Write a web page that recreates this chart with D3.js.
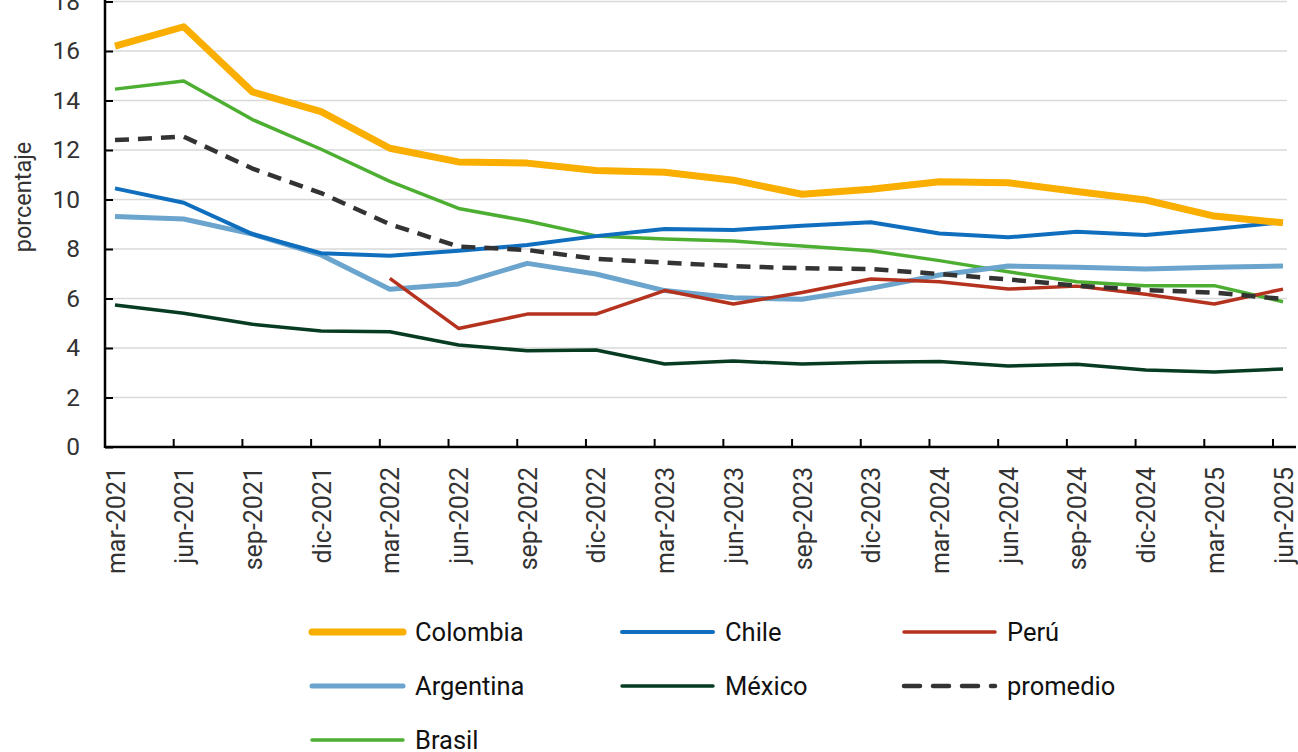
<!DOCTYPE html>
<html><head><meta charset="utf-8">
<script src="https://cdn.jsdelivr.net/npm/d3@7"></script>
<style>
html,body{margin:0;padding:0;background:#fff;}
svg{display:block;font-family:Roboto, "Noto Sans", sans-serif;}
</style></head>
<body><svg id="c" width="1298" height="752"></svg>
<script>
const categories = ["mar-2021","jun-2021","sep-2021","dic-2021","mar-2022","jun-2022","sep-2022","dic-2022","mar-2023","jun-2023","sep-2023","dic-2023","mar-2024","jun-2024","sep-2024","dic-2024","mar-2025","jun-2025"];
const colombia  = [16.2,16.98,14.35,13.55,12.07,11.52,11.47,11.17,11.1,10.78,10.21,10.41,10.72,10.68,10.32,9.98,9.33,9.06];
const chile     = [10.45,9.87,8.6,7.83,7.73,7.93,8.16,8.52,8.81,8.77,8.94,9.08,8.63,8.47,8.7,8.57,8.81,9.08];
const peru      = [null,null,null,null,6.81,4.79,5.37,5.37,6.32,5.78,6.24,6.79,6.68,6.38,6.5,6.17,5.78,6.38];
const argentina = [9.31,9.21,8.6,7.76,6.37,6.59,7.42,6.99,6.32,6.03,5.97,6.41,6.95,7.31,7.26,7.19,7.26,7.31];
const mexico    = [5.74,5.4,4.96,4.69,4.66,4.12,3.89,3.92,3.35,3.47,3.35,3.42,3.45,3.27,3.34,3.11,3.03,3.15];
const promedio  = [12.4,12.54,11.25,10.26,9.0,8.1,7.96,7.6,7.45,7.31,7.22,7.19,6.99,6.77,6.52,6.34,6.24,5.98];
const brasil    = [14.46,14.79,13.23,12.03,10.73,9.64,9.13,8.53,8.4,8.32,8.12,7.93,7.53,7.08,6.68,6.52,6.52,5.87];
const yTicks = [0,2,4,6,8,10,12,14,16,18];
const yLabel = "porcentaje";

const series = [
  {name:"Colombia", values:colombia, color:"#F9AE00", width:7, dash:null},
  {name:"Chile", values:chile, color:"#0F6FBE", width:4, dash:null},
  {name:"Perú", values:peru, color:"#B5321E", width:3.5, dash:null},
  {name:"Argentina", values:argentina, color:"#6BA4CC", width:5, dash:null},
  {name:"México", values:mexico, color:"#073B22", width:3.5, dash:null},
  {name:"promedio", values:promedio, color:"#333333", width:4.5, dash:"14,9"},
  {name:"Brasil", values:brasil, color:"#4DAF32", width:3.5, dash:null}
];
const drawOrder = ["Brasil","México","Argentina","Perú","Chile","promedio","Colombia"];

const svg = d3.select("#c");
const left = 105, right = 1296, bottom = 447;
const x = d3.scalePoint().domain(categories).range([115, 1283]);
const y = d3.scaleLinear().domain([0,18]).range([bottom, 1.5]);

// gridlines
svg.append("g").selectAll("line").data(yTicks.filter(d=>d>0)).join("line")
  .attr("x1", left).attr("x2", 1287)
  .attr("y1", d=>y(d)).attr("y2", d=>y(d))
  .attr("stroke", "#d9d9d9").attr("stroke-width", 1.5);

// y axis
const yAxis = svg.append("g").attr("transform", `translate(${left},0)`)
  .call(d3.axisLeft(y).tickValues(yTicks).tickSizeInner(-8).tickSizeOuter(0).tickPadding(25));
yAxis.select(".domain").remove();
yAxis.selectAll(".tick line").attr("stroke","#000").attr("stroke-width",2);
yAxis.selectAll("text").attr("font-size",24.5).attr("fill","#333").attr("font-family","Roboto");
svg.append("line").attr("x1",left).attr("x2",left).attr("y1",0).attr("y2",bottom+1)
  .attr("stroke","#000").attr("stroke-width",2.5);

// x axis
const xAxis = svg.append("g").attr("transform", `translate(0,${bottom})`)
  .call(d3.axisBottom(x).tickSize(0).tickPadding(0));
xAxis.select(".domain").remove();
xAxis.selectAll(".tick text")
  .attr("transform","translate(0,20) rotate(-90)")
  .attr("text-anchor","end").attr("dy","0.36em").attr("x",0).attr("y",0)
  .attr("font-size",25).attr("fill","#333").attr("font-family","Roboto");
svg.append("g").selectAll("line").data(categories.slice(1)).join("line")
  .attr("x1", d=>x(d)-10).attr("x2", d=>x(d)-10)
  .attr("y1", bottom).attr("y2", bottom-8)
  .attr("stroke","#000").attr("stroke-width",2);
svg.append("line").attr("x1",left).attr("x2",right).attr("y1",bottom).attr("y2",bottom)
  .attr("stroke","#000").attr("stroke-width",2.5);

// y label
svg.append("text").attr("transform","translate(31,197) rotate(-90)")
  .attr("text-anchor","middle").attr("font-size",23.5).attr("fill","#333").text(yLabel);

// lines
const line = d3.line().defined(d=>d.v!=null).x(d=>x(d.c)).y(d=>y(d.v));
const byName = Object.fromEntries(series.map(s=>[s.name,s]));
drawOrder.forEach(n=>{
  const s = byName[n];
  svg.append("path")
    .datum(s.values.map((v,i)=>({c:categories[i], v})))
    .attr("d", line).attr("fill","none")
    .attr("stroke", s.color).attr("stroke-width", s.width)
    .attr("stroke-dasharray", s.dash)
    .attr("stroke-linejoin","round");
});

// legend
const legCols = [312, 622, 904];
const legRows = [632, 686, 740];
const leg = svg.append("g");
series.forEach((s,i)=>{
  const cx = legCols[i%3], cy = legRows[Math.floor(i/3)];
  leg.append("line").attr("x1",cx).attr("x2",cx+91).attr("y1",cy).attr("y2",cy)
    .attr("stroke",s.color).attr("stroke-width",s.width)
    .attr("stroke-linecap","round")
    .attr("stroke-dasharray", s.dash ? "16,13" : null);
  leg.append("text").attr("x",cx+103).attr("y",cy).attr("dy","0.35em")
    .attr("font-size",25.5).attr("fill","#111").text(s.name);
});
</script></body></html>
